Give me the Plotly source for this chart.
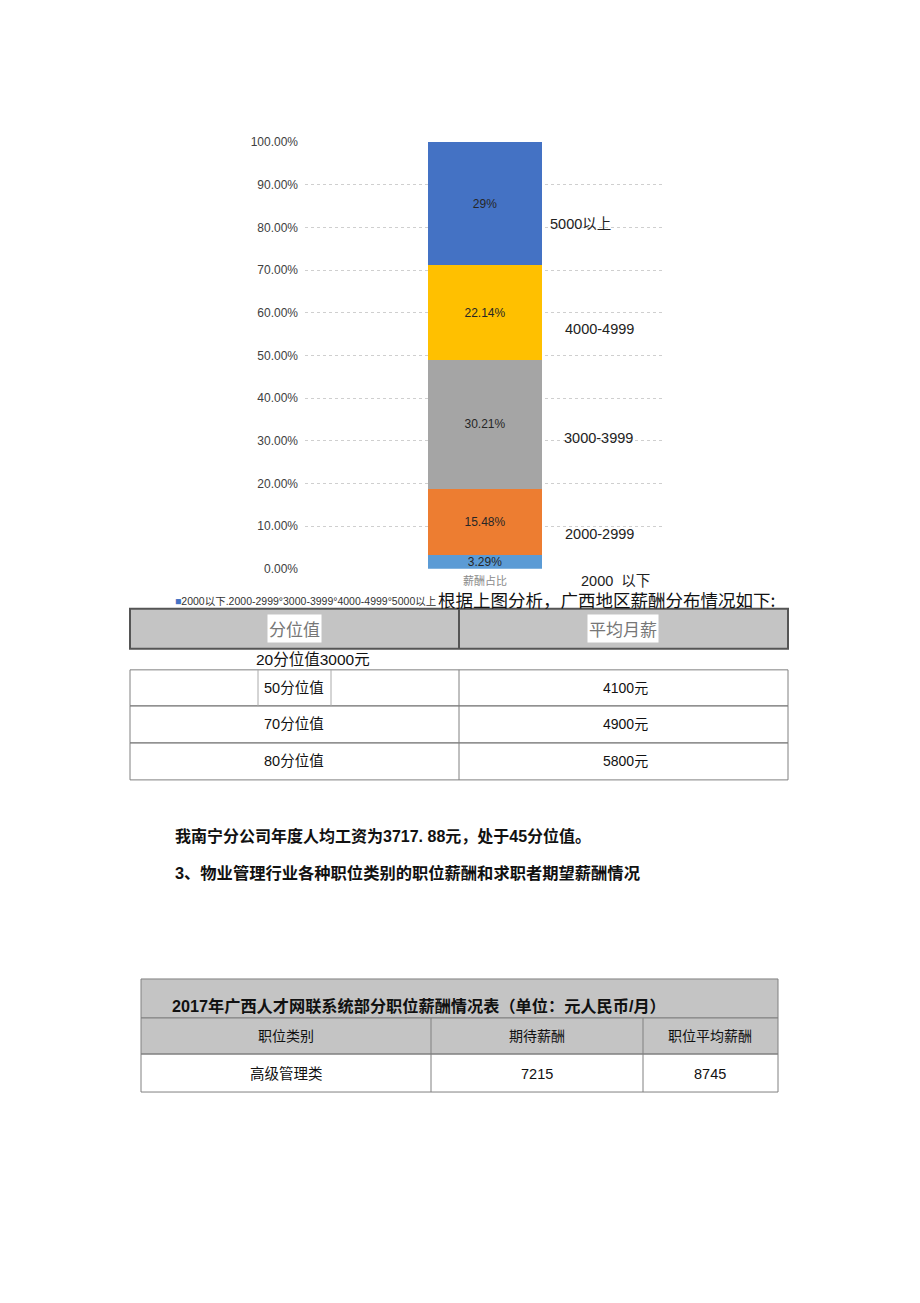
import plotly.graph_objects as go

# page is 920x1303; the html body adds an 8px margin, so the figure is drawn 16px smaller
PAGE_W, PAGE_H = 920, 1303
OFF = 8
W, H = PAGE_W - 2 * OFF, PAGE_H - 2 * OFF
FONT = "Liberation Sans, Arial, Noto Sans CJK SC"
CJK = "Noto Sans CJK SC, Liberation Sans"
# vertical calibration of the photographed page (measured)
Y_SCALE, Y_SHIFT = 0.9895, 6.5

# ---- data ----
category = ["薪酬占比"]
series_names = ["2000以下", "2000-2999", "3000-3999", "4000-4999", "5000以上"]
series_values = [0.0329, 0.1548, 0.3021, 0.2214, 0.29]
series_labels = ["3.29%", "15.48%", "30.21%", "22.14%", "29%"]
series_colors = ["#5B9BD5", "#ED7D31", "#A5A5A5", "#FFC000", "#4472C4"]
side_labels = ["2000  以下", "2000-2999", "3000-3999", "4000-4999", "5000以上"]
y_ticks = [0, 0.1, 0.2, 0.3, 0.4, 0.5, 0.6, 0.7, 0.8, 0.9, 1.0]

t1_header = ["分位值", "平均月薪"]
t1_loose = "20分位值3000元"
t1_rows = ["50分位值", "70分位值", "80分位值"]
t1_vals = ["4100元", "4900元", "5800元"]

para1 = "我南宁分公司年度人均工资为3717. 88元，处于45分位值。"
para2 = "3、物业管理行业各种职位类别的职位薪酬和求职者期望薪酬情况"

t2_title = "2017年广西人才网联系统部分职位薪酬情况表（单位：元人民币/月）"
t2_header = ["职位类别", "期待薪酬", "职位平均薪酬"]
t2_row = ["高级管理类", "7215", "8745"]


def px(x):
    return (x - OFF) / W


def py(y):
    yc = (y - Y_SHIFT) / Y_SCALE
    return 1 - (yc - OFF) / H


fig = go.Figure()
for name, v, lab, c in zip(series_names, series_values, series_labels, series_colors):
    fig.add_trace(go.Bar(
        x=category, y=[v], name=name, text=[lab], marker_color=c,
        marker_line_width=0, textposition="inside", insidetextanchor="middle",
        constraintext="none",
        textangle=0, textfont=dict(family=FONT, size=12, color="#262626"),
        showlegend=False, hoverinfo="skip"))

shapes = []
annotations = []


def rect(x0, y0, x1, y1, fill=None, lc="#808080", lw=1):
    shapes.append(dict(type="rect", xref="paper", yref="paper",
                       x0=px(x0), x1=px(x1), y0=py(y0), y1=py(y1),
                       fillcolor=fill if fill else "rgba(0,0,0,0)",
                       line=dict(color=lc, width=lw), layer="below" if fill else "above"))


def line(x0, y0, x1, y1, lc="#808080", lw=1):
    shapes.append(dict(type="line", xref="paper", yref="paper",
                       x0=px(x0), x1=px(x1), y0=py(y0), y1=py(y1),
                       line=dict(color=lc, width=lw)))


def text(x, y, s, size=13, color="#222", anchor="center", family=CJK, bg=None):
    a = dict(xref="paper", yref="paper", x=px(x), y=py(y), text=s, showarrow=False,
             xanchor=anchor, yanchor="middle",
             font=dict(family=family, size=size, color=color))
    if bg:
        a["bgcolor"] = bg
    annotations.append(a)


# side labels next to bar segments
side_pos = [(579, 581), (563, 534), (562, 438), (563, 329), (548, 224)]
for (x, y), s in zip(side_pos, side_labels):
    text(x, y, s, size=14.5, color="#222", anchor="left", family=FONT)

# legend line
text(173, 601, "<span style='color:#4472C4'>■</span>" + ".".join(series_names[:2]) + "°" + "°".join(series_names[2:]),
     size=10.5, color="#333", anchor="left", family=FONT)
text(436, 600, "根据上图分析，广西地区薪酬分布情况如下:", size=17.5, color="#111", anchor="left")

# table 1 header
GRAY = "#c4c4c4"
rect(130, 609, 788, 649, fill=GRAY, lc="#555", lw=2)
line(459, 609, 459, 649, lc="#555", lw=2)
text(294, 629, t1_header[0], size=17, color="#777", bg="white")
text(623, 629, t1_header[1], size=17, color="#777", bg="white")
text(313, 660, t1_loose, size=15.5, color="#111", family=FONT)

# table 1 body
row_y = [670, 706, 743, 780]
for i in range(3):
    rect(130, row_y[i], 788, row_y[i + 1])
    text(294, (row_y[i] + row_y[i + 1]) / 2, t1_rows[i], size=14.5, color="#111", family=FONT)
    text(625, (row_y[i] + row_y[i + 1]) / 2, t1_vals[i], size=14, color="#111", family=FONT)
line(459, 670, 459, 780)
line(258, 670, 258, 706, lc="#aaa")
line(331, 670, 331, 706, lc="#aaa")

# paragraphs
text(173, 836, "<b>" + para1 + "</b>", size=16, color="#111", anchor="left", family=FONT)
text(173, 873, "<b>" + para2 + "</b>", size=16.3, color="#111", anchor="left", family=FONT)

# table 2
rect(141, 979, 778, 1018, fill=GRAY)
rect(141, 1018, 778, 1054, fill=GRAY)
rect(141, 1054, 778, 1092)
line(431, 1018, 431, 1092)
line(643, 1018, 643, 1092)
text(170, 1006, "<b>" + t2_title + "</b>", size=16.2, color="#111", anchor="left", family=FONT)
cx = [286, 537, 710]
for c, h, r in zip(cx, t2_header, t2_row):
    text(c, 1036, h, size=14, color="#111", family=FONT)
    text(c, 1074, r, size=14.5, color="#111", family=FONT)

fig.update_layout(
    width=W, height=H, margin=dict(l=0, r=0, t=0, b=0),
    paper_bgcolor="white", plot_bgcolor="white",
    barmode="stack", bargap=0.686,
    shapes=shapes, annotations=annotations,
    xaxis=dict(domain=[px(305), px(665)], showgrid=False, zeroline=False,
               showline=False, ticks="", ticklabelstandoff=4,
               tickfont=dict(family=CJK, size=11, color="#8a8a8a")),
    yaxis=dict(domain=[py(569), py(142)], range=[0, max(1.0, sum(series_values))],
               tickvals=y_ticks,
               tickformat=".2%", showgrid=True, gridcolor="#cfcfcf", griddash="dot",
               gridwidth=1, zeroline=False, showline=False, ticks="", ticklabelstandoff=6,
               tickfont=dict(family=FONT, size=12, color="#404040")),
    font=dict(family=FONT),
)
fig.write_html("out.html")
